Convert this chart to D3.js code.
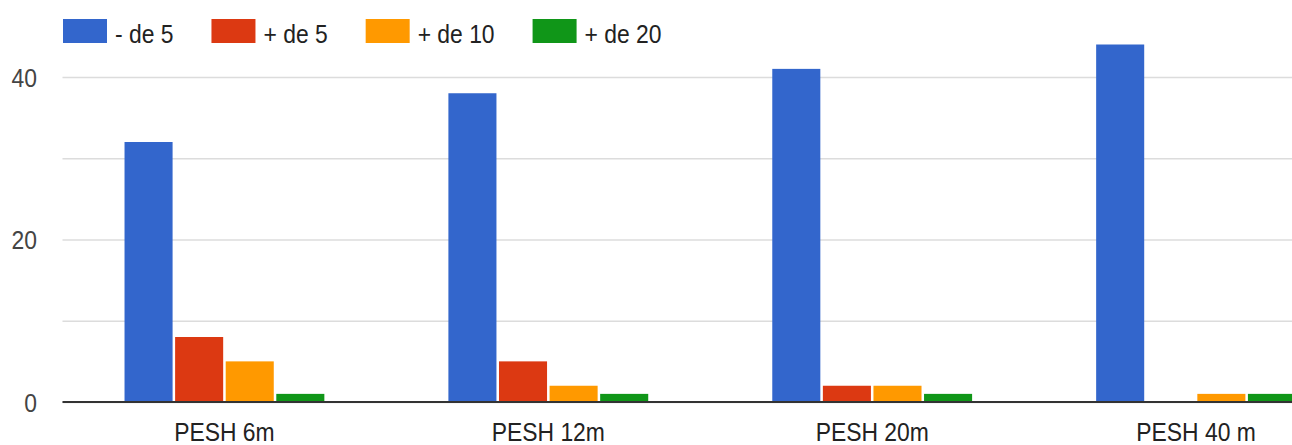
<!DOCTYPE html>
<html>
<head>
<meta charset="utf-8">
<script src="https://cdn.jsdelivr.net/npm/d3@7"></script>
<style>
  html, body { margin: 0; padding: 0; background: #fff; overflow: hidden; }
  svg { display: block; font-family: "Liberation Sans", Arial, sans-serif; }
</style>
</head>
<body>
<svg id="chart" width="1292" height="445"></svg>
<script>
// Category labels along the x axis
const categories = ["PESH 6m", "PESH 12m", "PESH 20m", "PESH 40 m"];
// Series names (legend order)
const seriesNames = ["- de 5", "+ de 5", "+ de 10", "+ de 20"];
// Values per series, one per category
const menos5 = [32, 38, 41, 44];
const mas5 = [8, 5, 2, 0];
const mas10 = [5, 2, 2, 1];
const mas20 = [1, 1, 1, 1];
// Y axis ticks: gridlines at every tick, labels on some
const yTicks = [0, 10, 20, 30, 40];
const yTickLabels = ["0", "", "20", "", "40"];

const seriesValues = [menos5, mas5, mas10, mas20];
const colors = ["#3366cc", "#dc3912", "#ff9900", "#109618"];

const svg = d3.select("#chart");
const W = 1292;
const squeeze = 0.88;          // narrow text rendering
const fontSize = 26;

const plotLeft = 62.5, plotRight = 1358;
const x0 = d3.scaleBand().domain(categories).range([plotLeft, plotRight])
  .paddingInner(0.383).paddingOuter(0.1915);
const x1 = d3.scaleBand().domain(seriesNames).range([0, x0.bandwidth()]).paddingInner(0.05);
const y = d3.scaleLinear().domain([0, 40]).range([402, 77]);

// Gridlines and y labels
const yAxis = d3.axisLeft(y).tickValues(yTicks)
  .tickFormat((d, i) => yTickLabels[i])
  .tickSize(-(W - plotLeft)).tickPadding(0);
const gy = svg.append("g").attr("transform", `translate(${plotLeft},0)`).call(yAxis);
gy.select(".domain").remove();
gy.selectAll(".tick line").attr("stroke", "#dcdcdc").attr("stroke-width", 1.6);
gy.selectAll(".tick text").each(function () {
  d3.select(this)
    .attr("x", null).attr("dy", null)
    .attr("text-anchor", "end")
    .attr("transform", `translate(${37 - plotLeft},9) scale(${squeeze},1)`)
    .attr("fill", "#444").attr("font-size", fontSize)
    .attr("font-family", "'Liberation Sans', Arial, sans-serif");
});

// Bars
const groups = svg.append("g").selectAll("g").data(categories).join("g")
  .attr("transform", d => `translate(${x0(d)},0)`);
groups.selectAll("rect")
  .data((c, ci) => seriesNames.map((s, si) => ({ s, si, v: seriesValues[si][ci] })))
  .join("rect")
  .filter(d => d.v > 0)
  .attr("x", d => x1(d.s))
  .attr("width", x1.bandwidth())
  .attr("y", d => y(d.v))
  .attr("height", d => y(0) - y(d.v))
  .attr("fill", d => colors[d.si]);

// Baseline
svg.append("line")
  .attr("x1", plotLeft).attr("x2", W)
  .attr("y1", y(0)).attr("y2", y(0))
  .attr("stroke", "#333").attr("stroke-width", 2);

// Category axis labels
const xAxis = d3.axisBottom(x0).tickSize(0).tickPadding(0);
const gx = svg.append("g").attr("transform", "translate(0,0)").call(xAxis);
gx.select(".domain").remove();
gx.selectAll(".tick text").each(function () {
  d3.select(this)
    .attr("y", null).attr("dy", null)
    .attr("text-anchor", "middle")
    .attr("transform", `translate(0,441) scale(${squeeze},1)`)
    .attr("fill", "#222").attr("font-size", fontSize)
    .attr("font-family", "'Liberation Sans', Arial, sans-serif");
});

// Legend
const legend = svg.append("g");
let lx = 63;
seriesNames.forEach((name, i) => {
  legend.append("rect")
    .attr("x", lx).attr("y", 19).attr("width", 44).attr("height", 24)
    .attr("fill", colors[i]);
  const t = legend.append("text")
    .attr("transform", `translate(${lx + 52},43) scale(${squeeze},1)`)
    .attr("fill", "#222").attr("font-size", fontSize)
    .text(name);
  const w = t.node().getComputedTextLength() * squeeze;
  lx = lx + 52 + w + 38;
});
</script>
</body>
</html>
